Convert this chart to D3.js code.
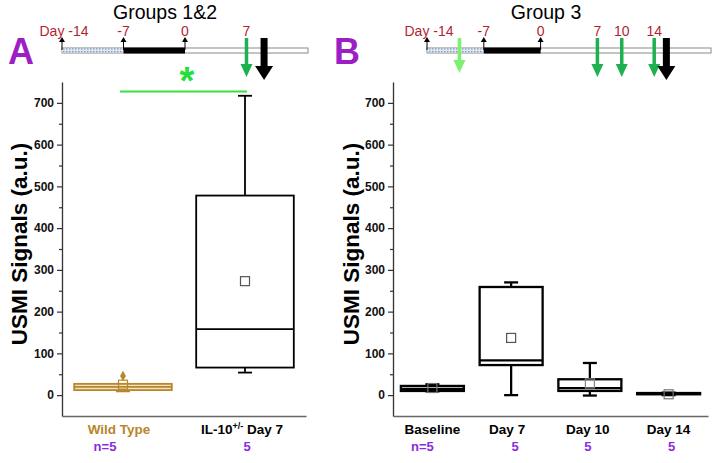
<!DOCTYPE html>
<html>
<head>
<meta charset="utf-8">
<script src="https://cdn.jsdelivr.net/npm/d3@7/dist/d3.min.js"></script>
<style>
html,body{margin:0;padding:0;background:#fff;}
svg{display:block;font-family:"Liberation Sans",Arial,sans-serif;}
</style>
</head>
<body>
<svg id="chart" width="714" height="463"></svg>
<script>
// ---------- DATA ----------
const yTicks = [0, 100, 200, 300, 400, 500, 600, 700];
const yMinorTicks = [50, 150, 250, 350, 450, 550, 650];

// Panel A (Groups 1&2)
const catsA = ["Wild Type", "IL-10 Day 7"];
const nLabelsA = ["n=5", "5"];
const whiskerLowA = [9, 54];
const q1A = [12, 66];
const medianA = [20, 158];
const q3A = [27, 478];
const whiskerHighA = [27, 717];
const meanA = [25, 273];
const outliersA = [[46], []];

// Panel B (Group 3)
const catsB = ["Baseline", "Day 7", "Day 10", "Day 14"];
const nLabelsB = ["n=5", "5", "5", "5"];
const whiskerLowB = [9, 0, -1, 0];
const q1B = [10, 72, 10, 2];
const medianB = [15, 83, 17, 3];
const q3B = [22, 259, 38, 5];
const whiskerHighB = [26, 270, 77, 6];
const meanB = [17, 137, 28, 2];
const outliersB = [[], [], [], []];

// Timelines
const timelineDaysA = [-14, -7, 0, 7];
const timelineLabelsA = ["Day -14", "-7", "0", "7"];
const greenArrowDaysA = [7];
const blackArrowDaysA = [9];

const timelineDaysB = [-14, -7, 0, 7, 10, 14];
const timelineLabelsB = ["Day -14", "-7", "0", "7", "10", "14"];
const lightGreenArrowDaysB = [-10];
const greenArrowDaysB = [7, 10, 14];
const blackArrowDaysB = [15.5];

// ---------- DRAW ----------
const svg = d3.select("#chart");
const defs = svg.append("defs");
const pat = defs.append("pattern").attr("id", "dots").attr("width", 3).attr("height", 3)
  .attr("patternUnits", "userSpaceOnUse");
pat.append("rect").attr("width", 3).attr("height", 3).attr("fill", "#dfe8f2");
pat.append("rect").attr("width", 1.5).attr("height", 1.5).attr("fill", "#7f9bbb");

const purple = "#9c1fc4";
const nPurple = "#8a2be2";
const red = "#b21f33";
const tan = "#b8862b";
const green = "#1fb14f";
const lightGreen = "#7ef06f";

const y = d3.scaleLinear().domain([-50, 750]).range([416, 82]);

function drawPanel(cfg) {
  const g = svg.append("g");
  const x = d3.scaleBand().domain(cfg.cats).range(cfg.xRange).padding(0);
  const bw = x.bandwidth();
  const boxW = bw * 0.8;
  const cx = c => x(c) + bw / 2;

  // y axis major
  const ax = g.append("g").attr("transform", `translate(${cfg.xRange[0]},0)`)
    .call(d3.axisLeft(y).tickValues(yTicks).tickSize(5).tickSizeOuter(0).tickPadding(3).tickFormat(d3.format("d")));
  ax.select(".domain").attr("stroke", "#333").attr("stroke-width", 1.3);
  ax.selectAll(".tick line").attr("stroke", "#333").attr("stroke-width", 1.2);
  ax.selectAll(".tick text").attr("font-size", 12).attr("font-weight", "bold").attr("fill", "#111")
    .attr("font-family", "Liberation Sans, Arial, sans-serif");
  // y axis minor
  const axm = g.append("g").attr("transform", `translate(${cfg.xRange[0]},0)`)
    .call(d3.axisLeft(y).tickValues(yMinorTicks).tickSize(3).tickSizeOuter(0).tickFormat(""));
  axm.select(".domain").remove();
  axm.selectAll(".tick line").attr("stroke", "#333").attr("stroke-width", 1.2);

  // x axis line
  const axb = g.append("g").attr("transform", `translate(0,${y(-50)})`)
    .call(d3.axisBottom(x).tickSize(0).tickSizeOuter(0).tickFormat(""));
  axb.select(".domain").attr("stroke", "#666").attr("stroke-width", 1.5);

  // y axis title
  g.append("text")
    .attr("transform", `translate(${cfg.titleX},244) rotate(-90)`)
    .attr("text-anchor", "middle").attr("font-size", 22.5).attr("font-weight", "bold")
    .attr("fill", "#000").text("USMI Signals (a.u.)");

  // boxes
  cfg.cats.forEach((c, i) => {
    const col = cfg.colors[i];
    const sw = cfg.strokeW;
    const xc = cx(c);
    const bg = g.append("g");
    // whiskers
    bg.append("line").attr("x1", xc).attr("x2", xc).attr("y1", y(cfg.q3[i])).attr("y2", y(cfg.wHigh[i]))
      .attr("stroke", col).attr("stroke-width", sw);
    bg.append("line").attr("x1", xc).attr("x2", xc).attr("y1", y(cfg.q1[i])).attr("y2", y(cfg.wLow[i]))
      .attr("stroke", col).attr("stroke-width", sw);
    [cfg.wHigh[i], cfg.wLow[i]].forEach(v => {
      bg.append("line").attr("x1", xc - 7).attr("x2", xc + 7).attr("y1", y(v)).attr("y2", y(v))
        .attr("stroke", col).attr("stroke-width", sw);
    });
    // box
    bg.append("rect").attr("x", xc - boxW / 2).attr("width", boxW)
      .attr("y", y(cfg.q3[i])).attr("height", y(cfg.q1[i]) - y(cfg.q3[i]))
      .attr("fill", cfg.fills[i]).attr("stroke", col).attr("stroke-width", sw);
    // median
    bg.append("line").attr("x1", xc - boxW / 2).attr("x2", xc + boxW / 2)
      .attr("y1", y(cfg.median[i])).attr("y2", y(cfg.median[i]))
      .attr("stroke", col).attr("stroke-width", sw);
    // mean
    bg.append("rect").attr("x", xc - 4.5).attr("y", y(cfg.mean[i]) - 4.5).attr("width", 9).attr("height", 9)
      .attr("fill", "none").attr("stroke", cfg.meanColors[i]).attr("stroke-width", 1.2);
    // outliers
    cfg.outliers[i].forEach(v => {
      bg.append("path").attr("d", d3.symbol(d3.symbolDiamond, 30)())
        .attr("transform", `translate(${xc},${y(v)})`).attr("fill", col);
    });

    // category label
    const t = g.append("text").attr("x", xc + cfg.labelDx[i]).attr("y", 433.5).attr("text-anchor", "middle")
      .attr("font-size", 13.5).attr("font-weight", "bold").attr("fill", cfg.labelColors[i]);
    if (cfg.superscript && cfg.superscript[i]) {
      t.append("tspan").text("IL-10");
      t.append("tspan").attr("dy", -5).attr("font-size", 9).text("+/-");
      t.append("tspan").attr("dy", 5).text(" Day 7");
    } else {
      t.text(c);
    }
    g.append("text").attr("x", xc + cfg.nDx[i]).attr("y", 451).attr("text-anchor", "middle")
      .attr("font-size", 13).attr("font-weight", "bold").attr("fill", nPurple).text(cfg.nLabels[i]);
  });
  return { x, cx };
}

function arrowDown(g, xc, color, shaftW, headHalf, y0, y1, headLen) {
  g.append("path")
    .attr("d", `M${xc - shaftW / 2},${y0} L${xc + shaftW / 2},${y0} L${xc + shaftW / 2},${y1 - headLen} L${xc + headHalf},${y1 - headLen} L${xc},${y1} L${xc - headHalf},${y1 - headLen} L${xc - shaftW / 2},${y1 - headLen} Z`)
    .attr("fill", color);
}

function drawTimeline(cfg) {
  const g = svg.append("g");
  const t = d3.scaleLinear().domain(cfg.domain).range(cfg.range);
  const barY = 48, barH = 5;
  // full bar
  g.append("rect").attr("x", t(cfg.domain[0])).attr("y", barY).attr("width", t(cfg.domain[1]) - t(cfg.domain[0]))
    .attr("height", barH).attr("fill", "#fff").attr("stroke", "#8a8a8a").attr("stroke-width", 1);
  // hatched segment (-14 to -7)
  g.append("rect").attr("x", t(cfg.days[0])).attr("y", barY + 0.5).attr("width", t(cfg.days[1]) - t(cfg.days[0]))
    .attr("height", barH - 1).attr("fill", "url(#dots)");
  // black segment (-7 to 0)
  g.append("rect").attr("x", t(cfg.days[1])).attr("y", barY - 0.5).attr("width", t(cfg.days[2]) - t(cfg.days[1]))
    .attr("height", barH + 1).attr("fill", "#000");
  // up arrows at -14, -7, 0
  cfg.days.slice(0, 3).forEach(d => {
    const xc = t(d);
    g.append("line").attr("x1", xc).attr("x2", xc).attr("y1", barY + 2).attr("y2", 41)
      .attr("stroke", "#000").attr("stroke-width", 1);
    g.append("path").attr("d", `M${xc},37 L${xc + 3},42 L${xc - 3},42 Z`).attr("fill", "#000");
  });
  // day labels
  cfg.days.forEach((d, i) => {
    g.append("text").attr("x", t(d) + (i === 0 ? 2 : 0)).attr("y", 36).attr("text-anchor", "middle")
      .attr("font-size", 14).attr("fill", red).text(cfg.labels[i]);
  });
  (cfg.lightGreen || []).forEach(d => arrowDown(g, t(d), lightGreen, 3.5, 6, 38, 73, 13));
  cfg.green.forEach(d => arrowDown(g, t(d), green, 3.5, 6, 38, 77, 13));
  cfg.black.forEach(d => arrowDown(g, t(d), "#000", 7, 9, 38, 80, 14));
  // title
  g.append("text").attr("x", cfg.titleX).attr("y", 19).attr("text-anchor", "middle")
    .attr("font-size", 19.5).attr("fill", "#000").text(cfg.title);
}

// Panel A
const pA = drawPanel({
  cats: catsA, xRange: [62, 306], titleX: 26.5,
  q1: q1A, q3: q3A, median: medianA, wLow: whiskerLowA, wHigh: whiskerHighA, mean: meanA, outliers: outliersA,
  colors: [tan, "#000"], fills: ["#f3e3c0", "none"], meanColors: [tan, "#555"],
  labelColors: [tan, "#000"], superscript: [false, true], labelDx: [-4, -3], nDx: [-18, 2],
  nLabels: nLabelsA, strokeW: 1.8
});
// Panel B
const pB = drawPanel({
  cats: catsB, xRange: [393, 708], titleX: 359,
  q1: q1B, q3: q3B, median: medianB, wLow: whiskerLowB, wHigh: whiskerHighB, mean: meanB, outliers: outliersB,
  colors: ["#000", "#000", "#000", "#000"], fills: ["none", "none", "none", "none"], meanColors: ["#777", "#555", "#888", "#777"],
  labelColors: ["#000", "#000", "#000", "#000"], labelDx: [0, -4, -2, 0], nDx: [-10, 4, -2, 3],
  nLabels: nLabelsB, strokeW: 2.3
});

// significance bar (panel A)
svg.append("line").attr("x1", pA.cx(catsA[0]) - 3).attr("x2", pA.cx(catsA[1]) + 2)
  .attr("y1", 91.5).attr("y2", 91.5).attr("stroke", "#3be040").attr("stroke-width", 2);
svg.append("text").attr("x", (pA.cx(catsA[0]) + pA.cx(catsA[1])) / 2 + 3).attr("y", 94)
  .attr("text-anchor", "middle").attr("font-size", 38).attr("font-weight", "bold").attr("fill", "#22e03a").text("*");

// Timelines
drawTimeline({ domain: [-14, 14], range: [62, 308], days: timelineDaysA, labels: timelineLabelsA,
  green: greenArrowDaysA, black: blackArrowDaysA, title: "Groups 1&2", titleX: 165 });
drawTimeline({ domain: [-14, 21], range: [427, 711], days: timelineDaysB, labels: timelineLabelsB,
  lightGreen: lightGreenArrowDaysB, green: greenArrowDaysB, black: blackArrowDaysB, title: "Group 3", titleX: 546 });

// Panel letters
svg.append("text").attr("x", 8).attr("y", 64).attr("font-size", 36).attr("font-weight", "bold").attr("fill", purple).text("A");
svg.append("text").attr("x", 334).attr("y", 64).attr("font-size", 36).attr("font-weight", "bold").attr("fill", purple).text("B");
</script>
</body>
</html>
